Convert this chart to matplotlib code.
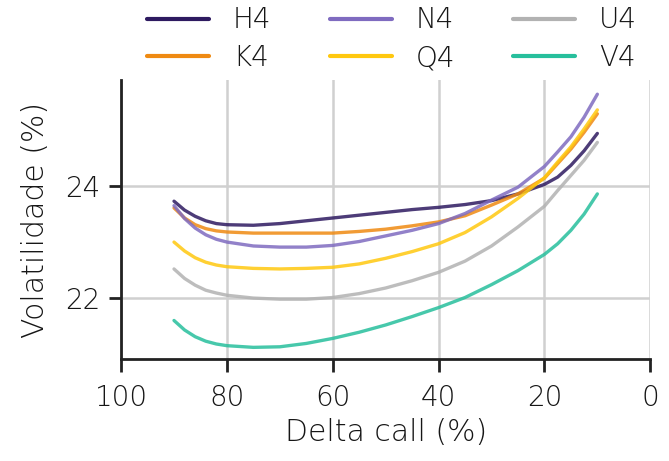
import numpy as np
import matplotlib
matplotlib.use("Agg")
import matplotlib.pyplot as plt

plt.rcParams['font.family'] = ['DejaVu Sans']
plt.rcParams['font.weight'] = 'light'
plt.rcParams['axes.labelweight'] = 'light'

delta = [90, 88, 86, 84, 82, 80, 75, 70, 65, 60, 55, 50, 45, 40, 35, 30, 25, 20, 17.5, 15, 12.5, 10]

h4 = [23.72, 23.56, 23.45, 23.37, 23.32, 23.30, 23.29, 23.32, 23.37, 23.42, 23.47, 23.52, 23.57, 23.61, 23.66, 23.73, 23.85, 24.02, 24.15, 24.36, 24.62, 24.93]
k4 = [23.60, 23.42, 23.30, 23.23, 23.19, 23.17, 23.15, 23.15, 23.15, 23.15, 23.18, 23.22, 23.28, 23.35, 23.46, 23.65, 23.85, 24.13, 24.39, 24.65, 24.95, 25.28]
n4 = [23.64, 23.41, 23.24, 23.12, 23.04, 22.99, 22.92, 22.90, 22.90, 22.93, 23.00, 23.10, 23.20, 23.32, 23.50, 23.74, 23.97, 24.34, 24.60, 24.87, 25.22, 25.63]
q4 = [22.99, 22.83, 22.71, 22.63, 22.58, 22.55, 22.52, 22.51, 22.52, 22.54, 22.60, 22.70, 22.82, 22.96, 23.16, 23.44, 23.77, 24.14, 24.42, 24.69, 25.01, 25.35]
u4 = [22.51, 22.34, 22.22, 22.13, 22.08, 22.04, 21.99, 21.97, 21.97, 22.00, 22.07, 22.17, 22.30, 22.45, 22.65, 22.92, 23.26, 23.63, 23.91, 24.18, 24.45, 24.77]
v4 = [21.59, 21.42, 21.30, 21.22, 21.17, 21.14, 21.11, 21.12, 21.18, 21.27, 21.38, 21.51, 21.66, 21.82, 22.00, 22.23, 22.48, 22.77, 22.96, 23.20, 23.49, 23.85]

series = ['H4', 'K4', 'N4', 'Q4', 'U4', 'V4']
values = [h4, k4, n4, q4, u4, v4]
colors = ['#2e1a60', '#ef8a12', '#7f6bc0', '#ffc80f', '#b2b2b2', '#27bf9c']

fig = plt.figure(figsize=(6.69, 4.61), dpi=100)
ax = fig.add_axes([0.181, 0.221, 0.791, 0.605])

for name, v, c in zip(series, values, colors):
    ax.plot(delta, v, color=c, lw=2.4, alpha=0.85, label=name, solid_capstyle='round')

ax.set_xlim(100, 0)
ax.set_ylim(20.9, 25.88)
ax.set_xticks([100, 80, 60, 40, 20, 0])
ax.set_yticks([22, 24])
ax.grid(True, color='#d0d0d0', lw=1.8)
ax.set_axisbelow(True)

for s in ['top', 'right']:
    ax.spines[s].set_visible(False)
for s in ['left', 'bottom']:
    ax.spines[s].set_linewidth(2)
    ax.spines[s].set_color('#222222')
ax.tick_params(width=2, length=9, color='#222222', labelsize=20, labelcolor='#161616')
ax.tick_params(axis='x', pad=9)
ax.tick_params(axis='y', pad=6)

ax.set_xlabel('Delta call (%)', fontsize=21.5, color='#161616', labelpad=4)
ax.set_ylabel('Volatilidade (%)', fontsize=21.5, color='#161616', labelpad=11)

leg = ax.legend(ncol=3, loc='lower left', bbox_to_anchor=(0.049, 1.029), frameon=False,
                fontsize=20, handlelength=2.23, columnspacing=2.1, handletextpad=0.86,
                labelspacing=0.35, borderaxespad=0, borderpad=0)
for line in leg.get_lines():
    line.set_linewidth(3)
    line.set_alpha(1)
    line.set_solid_capstyle('round')
for t in leg.get_texts():
    t.set_color('#161616')

fig.savefig('out.png', dpi=100)
